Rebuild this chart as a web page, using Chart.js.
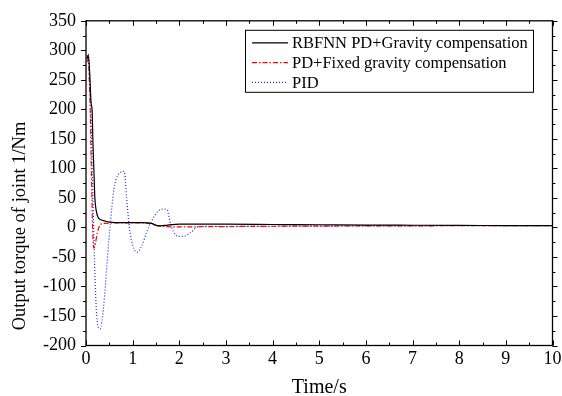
<!DOCTYPE html>
<html>
<head>
<meta charset="utf-8">
<script src="https://cdn.jsdelivr.net/npm/chart.js@4/dist/chart.umd.min.js"></script>
<style>
  html, body { margin: 0; padding: 0; background: #fff; }
  #wrap { width: 562px; height: 396px; }
</style>
</head>
<body>
<div id="wrap"><canvas id="c" width="562" height="396"></canvas></div>
<script>
// series (time in s, torque in Nm)
const rbfTime   = [0.02, 0.05, 0.08, 0.11, 0.13, 0.15, 0.17, 0.19, 0.22, 0.26, 0.32, 0.4, 0.5, 0.8, 1.2, 1.4, 1.5, 1.6, 1.75, 2.0, 3, 4, 5, 6, 7, 8, 9, 10];
const rbfTorque = [285, 292, 260, 210, 200, 140, 95, 50, 28, 17, 13, 11, 9, 8, 8, 7, 3.5, 2.5, 4, 5.5, 5.5, 5, 4.5, 4, 3.7, 3.4, 3.2, 3];

const pdTime   = [0.02, 0.05, 0.07, 0.09, 0.11, 0.13, 0.15, 0.17, 0.2, 0.24, 0.3, 0.4, 0.6, 1.2, 1.4, 1.55, 1.7, 2, 3, 4, 5, 6, 7, 8, 9, 10];
const pdTorque = [280, 285, 250, 200, 120, 40, -20, -35, -28, -10, 4, 7, 7.5, 7.5, 6.5, 3, 1.5, 1, 1.5, 2, 2.3, 2.5, 2.7, 2.9, 3, 3];

const pidTime   = [0.02, 0.05, 0.08, 0.11, 0.14, 0.17, 0.2, 0.23, 0.27, 0.3, 0.34, 0.4, 0.46, 0.52, 0.6, 0.68, 0.76, 0.82, 0.87, 0.93, 1.0, 1.1, 1.2, 1.3, 1.4, 1.55, 1.65, 1.74, 1.8, 1.88, 1.97, 2.1, 2.25, 2.4, 2.6, 3, 4, 5, 6, 7, 8, 9, 10];
const pidTorque = [290, 294, 250, 180, 80, -20, -100, -150, -170, -172, -160, -115, -50, 5, 65, 88, 94, 95, 50, 0, -30, -42, -30, -8, 10, 28, 31, 30, 10, -8, -15, -15, -8, 1, 2, 1.5, 2, 2.3, 2.5, 2.7, 2.9, 3, 3];

const seriesNames = ["RBFNN PD+Gravity compensation", "PD+Fixed gravity compensation", "PID"];

const xTicks = [0, 1, 2, 3, 4, 5, 6, 7, 8, 9, 10];
const yTicks = [-200, -150, -100, -50, 0, 50, 100, 150, 200, 250, 300, 350];
const yTitle = "Output torque of joint 1/Nm";

const serif = "'Liberation Serif', 'Times New Roman', serif";

function toPoints(ts, vs) {
  return ts.map((t, i) => ({ x: t, y: vs[i] }));
}

// frame, ticks, y title and legend box, drawn like the original plot
const framePlugin = {
  id: "frame",
  afterDraw(chart) {
    const ctx = chart.ctx;
    const a = chart.chartArea;
    const xs = chart.scales.x, ys = chart.scales.y;
    ctx.save();
    ctx.strokeStyle = "#000";
    ctx.lineWidth = 1.3;
    ctx.strokeRect(a.left, a.top, a.right - a.left, a.bottom - a.top);
    ctx.lineWidth = 1;
    ctx.beginPath();
    for (let v = xTicks[0]; v <= xTicks[xTicks.length - 1] + 1e-9; v += 0.5) {
      const px = Math.round(xs.getPixelForValue(v)) + 0.5;
      const len = Math.abs(v - Math.round(v)) < 1e-9 ? 5 : 3;
      ctx.moveTo(px, a.bottom); ctx.lineTo(px, a.bottom - len);
      ctx.moveTo(px, a.top); ctx.lineTo(px, a.top + len);
    }
    for (let v = yTicks[0]; v <= yTicks[yTicks.length - 1] + 1e-9; v += 25) {
      const py = Math.round(ys.getPixelForValue(v)) + 0.5;
      const len = v % 50 === 0 ? 5 : 3;
      ctx.moveTo(a.left, py); ctx.lineTo(a.left - len, py);
      ctx.moveTo(a.right, py); ctx.lineTo(a.right + len, py);
    }
    ctx.stroke();

    // y title sits a little below the middle in the original
    ctx.save();
    ctx.translate(20, 226);
    ctx.rotate(-Math.PI / 2);
    ctx.font = "18.5px " + serif;
    ctx.fillStyle = "#000";
    ctx.textAlign = "center";
    ctx.textBaseline = "middle";
    ctx.fillText(yTitle, 0, 0);
    ctx.restore();

    // legend
    const bx = a.right - 19.5, by = a.top + 9;
    const bw = 288, bh = 62;
    ctx.fillStyle = "#fff";
    ctx.fillRect(bx - bw, by, bw, bh);
    ctx.lineWidth = 1;
    ctx.strokeRect(bx - bw + 0.5, by + 0.5, bw, bh);
    ctx.font = "16.5px " + serif;
    ctx.textBaseline = "middle";
    ctx.textAlign = "left";
    chart.data.datasets.forEach((ds, i) => {
      const ry = by + 13 + i * 19.8;
      ctx.strokeStyle = ds.borderColor;
      ctx.lineWidth = ds.borderWidth;
      ctx.setLineDash(ds.borderDash || []);
      ctx.beginPath();
      ctx.moveTo(bx - bw + 7, ry); ctx.lineTo(bx - bw + 43, ry);
      ctx.stroke();
      ctx.setLineDash([]);
      ctx.fillStyle = "#000";
      ctx.fillText(ds.label, bx - bw + 47, ry + 1);
    });
    ctx.restore();
  }
};

new Chart(document.getElementById("c"), {
  type: "line",
  data: {
    datasets: [
      {
        label: seriesNames[0],
        data: toPoints(rbfTime, rbfTorque),
        borderColor: "#000",
        borderWidth: 1.2,
        pointRadius: 0,
        cubicInterpolationMode: "monotone"
      },
      {
        label: seriesNames[1],
        data: toPoints(pdTime, pdTorque),
        borderColor: "rgb(255,0,0)",
        borderWidth: 1.2,
        borderDash: [5, 2, 1.5, 2],
        pointRadius: 0,
        cubicInterpolationMode: "monotone"
      },
      {
        label: seriesNames[2],
        data: toPoints(pidTime, pidTorque),
        borderColor: "rgb(40,40,255)",
        borderWidth: 1.2,
        borderDash: [1, 2],
        pointRadius: 0,
        cubicInterpolationMode: "monotone"
      }
    ]
  },
  options: {
    responsive: false,
    animation: false,
    layout: { padding: { top: 18, right: 9.5, left: 0, bottom: 0 } },
    plugins: { legend: { display: false }, tooltip: { enabled: false } },
    scales: {
      x: {
        type: "linear",
        min: 0,
        max: 10,
        afterBuildTicks: s => { s.ticks = xTicks.map(v => ({ value: v })); },
        afterFit: s => { s.height = 50.5; s.paddingRight = 0; s.paddingLeft = 0; },
        grid: { display: false, drawTicks: false },
        border: { display: false },
        ticks: { color: "#000", padding: 3, maxRotation: 0, font: { family: serif, size: 18 } },
        title: { display: true, text: "Time/s", color: "#000", padding: { top: 0, bottom: -2 }, font: { family: serif, size: 20, lineHeight: 1 } }
      },
      y: {
        min: -200,
        max: 350,
        afterBuildTicks: s => { s.ticks = yTicks.map(v => ({ value: v })); },
        afterFit: s => { s.width = 86; },
        grid: { display: false, drawTicks: false },
        border: { display: false },
        ticks: { color: "#000", padding: 10, font: { family: serif, size: 18 } }
      }
    }
  },
  plugins: [framePlugin]
});
</script>
</body>
</html>
